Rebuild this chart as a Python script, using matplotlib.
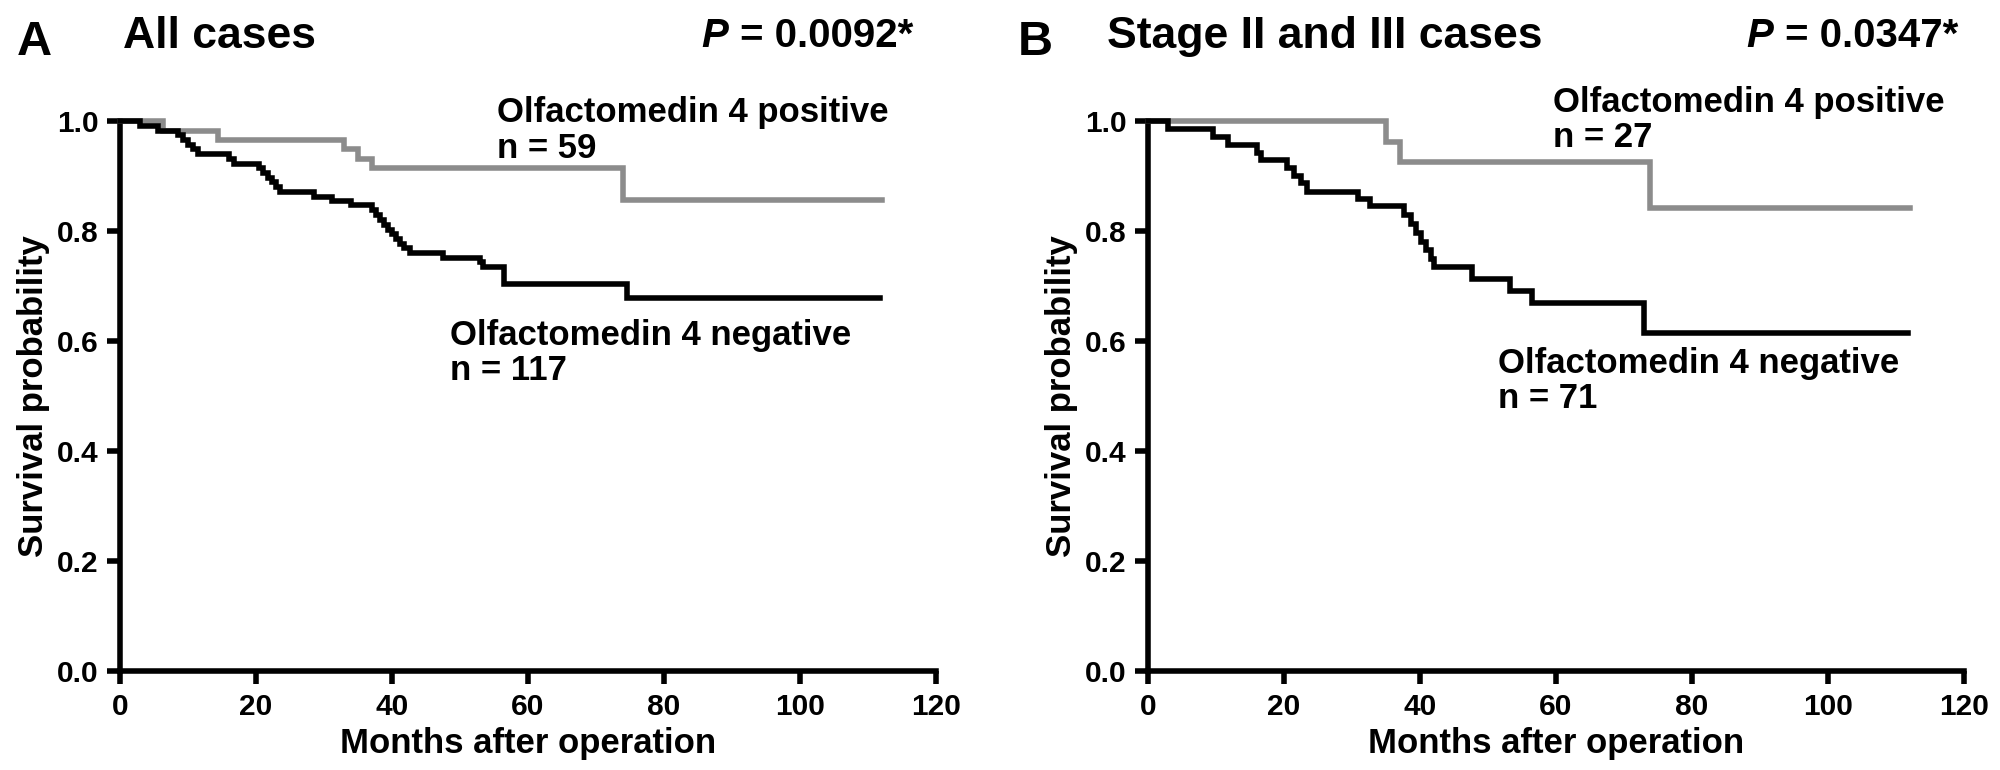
import matplotlib
matplotlib.use("Agg")
import matplotlib.pyplot as plt

plt.rcParams["font.family"] = ["Liberation Sans", "DejaVu Sans"]
plt.rcParams["font.weight"] = "bold"

# panel A: all cases
a_pos_t = [0, 6.3, 14.4, 33.0, 35.0, 37.0, 74.0, 112.0]
a_pos_s = [1.0, 0.983, 0.966, 0.949, 0.932, 0.915, 0.857, 0.857]
a_neg_t = [0, 3.0, 5.6, 8.5, 9.2, 10.0, 10.8, 11.5, 16.0, 16.8, 20.5, 21.1, 21.7,
           22.3, 22.9, 23.5, 28.5, 31.2, 34.0, 37.0, 37.6, 38.2, 38.8, 39.4, 40.0,
           40.6, 41.2, 41.8, 42.6, 47.5, 52.9, 53.4, 56.5, 74.5, 111.8]
a_neg_s = [1.0, 0.991, 0.983, 0.974, 0.966, 0.957, 0.949, 0.940, 0.932, 0.923, 0.915,
           0.906, 0.897, 0.889, 0.880, 0.872, 0.863, 0.855, 0.847, 0.838, 0.829, 0.820,
           0.812, 0.803, 0.795, 0.786, 0.777, 0.769, 0.761, 0.752, 0.743, 0.734, 0.704,
           0.678, 0.678]

# panel B: stage II and III
b_pos_t = [0, 35.0, 37.0, 73.8, 112.0]
b_pos_s = [1.0, 0.963, 0.926, 0.842, 0.842]
b_neg_t = [0, 2.9, 9.5, 11.7, 16.1, 16.6, 20.5, 21.5, 22.5, 23.4, 30.9, 32.6, 37.7,
           38.7, 39.4, 40.1, 40.9, 41.6, 42.1, 47.6, 53.2, 56.5, 73.0, 111.8]
b_neg_s = [1.0, 0.986, 0.972, 0.957, 0.943, 0.929, 0.915, 0.901, 0.887, 0.872, 0.859,
           0.845, 0.829, 0.813, 0.797, 0.781, 0.765, 0.750, 0.734, 0.713, 0.692, 0.670,
           0.615, 0.615]

panels = [
    dict(letter="A", title="All cases", p="0.0092*",
         pos=(a_pos_t, a_pos_s), neg=(a_neg_t, a_neg_s),
         pos_lbl=("Olfactomedin 4 positive", "n = 59", 55.4, 0.998, 0.933),
         neg_lbl=("Olfactomedin 4 negative", "n = 117", 48.5, 0.593, 0.529),
         left=0.06, letter_x=0.0085, title_x=0.0615, p_x=0.4565),
    dict(letter="B", title="Stage II and III cases", p="0.0347*",
         pos=(b_pos_t, b_pos_s), neg=(b_neg_t, b_neg_s),
         pos_lbl=("Olfactomedin 4 positive", "n = 27", 59.6, 1.016, 0.953),
         neg_lbl=("Olfactomedin 4 negative", "n = 71", 51.5, 0.542, 0.478),
         left=0.574, letter_x=0.509, title_x=0.5535, p_x=0.979),
]

fig = plt.figure(figsize=(20, 7.7), dpi=100)
gray = "#8c8c8c"
lw = 4.0

for pn in panels:
    ax = fig.add_axes([pn["left"], 0.1286, 0.408, 0.714])
    ax.step(pn["pos"][0], pn["pos"][1], where="post", color=gray, lw=lw,
            clip_on=False, solid_joinstyle="miter", zorder=3)
    ax.step(pn["neg"][0], pn["neg"][1], where="post", color="black", lw=lw,
            clip_on=False, solid_joinstyle="miter", zorder=4)
    ax.set_xlim(0, 120)
    ax.set_ylim(0, 1.0)
    ax.set_xticks(range(0, 121, 20))
    ax.set_yticks([0.0, 0.2, 0.4, 0.6, 0.8, 1.0])
    ax.set_yticklabels(["0.0", "0.2", "0.4", "0.6", "0.8", "1.0"])
    for s in ["top", "right"]:
        ax.spines[s].set_visible(False)
    for s in ["left", "bottom"]:
        ax.spines[s].set_linewidth(lw)
        ax.spines[s].set_capstyle("projecting")
    ax.tick_params(width=lw, length=9.5, pad=6, labelsize=21.5)
    for lab in ax.get_xticklabels() + ax.get_yticklabels():
        lab.set_fontweight("bold")

    name, n, x, y1, y2 = pn["pos_lbl"]
    ax.text(x, y1, name, fontsize=25, va="baseline", clip_on=False)
    ax.text(x, y2, n, fontsize=25, va="baseline", clip_on=False)
    name, n, x, y1, y2 = pn["neg_lbl"]
    ax.text(x, y1, name, fontsize=25, va="baseline")
    ax.text(x, y2, n, fontsize=25, va="baseline")

    cx = pn["left"] + 0.204
    fig.text(cx, 0.022, "Months after operation", fontsize=25, ha="center",
             va="baseline")
    fig.text(pn["left"] - 0.043, 0.486, "Survival probability", fontsize=25,
             rotation=90, ha="center", va="center")

    fig.text(pn["letter_x"], 0.9286, pn["letter"], fontsize=35, va="baseline")
    fig.text(pn["title_x"], 0.9377, pn["title"], fontsize=32, va="baseline")
    num = fig.text(pn["p_x"], 0.939, " = " + pn["p"], fontsize=29, ha="right",
                   va="baseline")
    ax.annotate("P", xy=(0, 0.939), xycoords=(num, "figure fraction"),
                fontsize=29, style="italic", fontweight="bold", ha="right",
                va="baseline", annotation_clip=False)

fig.savefig("out.png", dpi=100)
